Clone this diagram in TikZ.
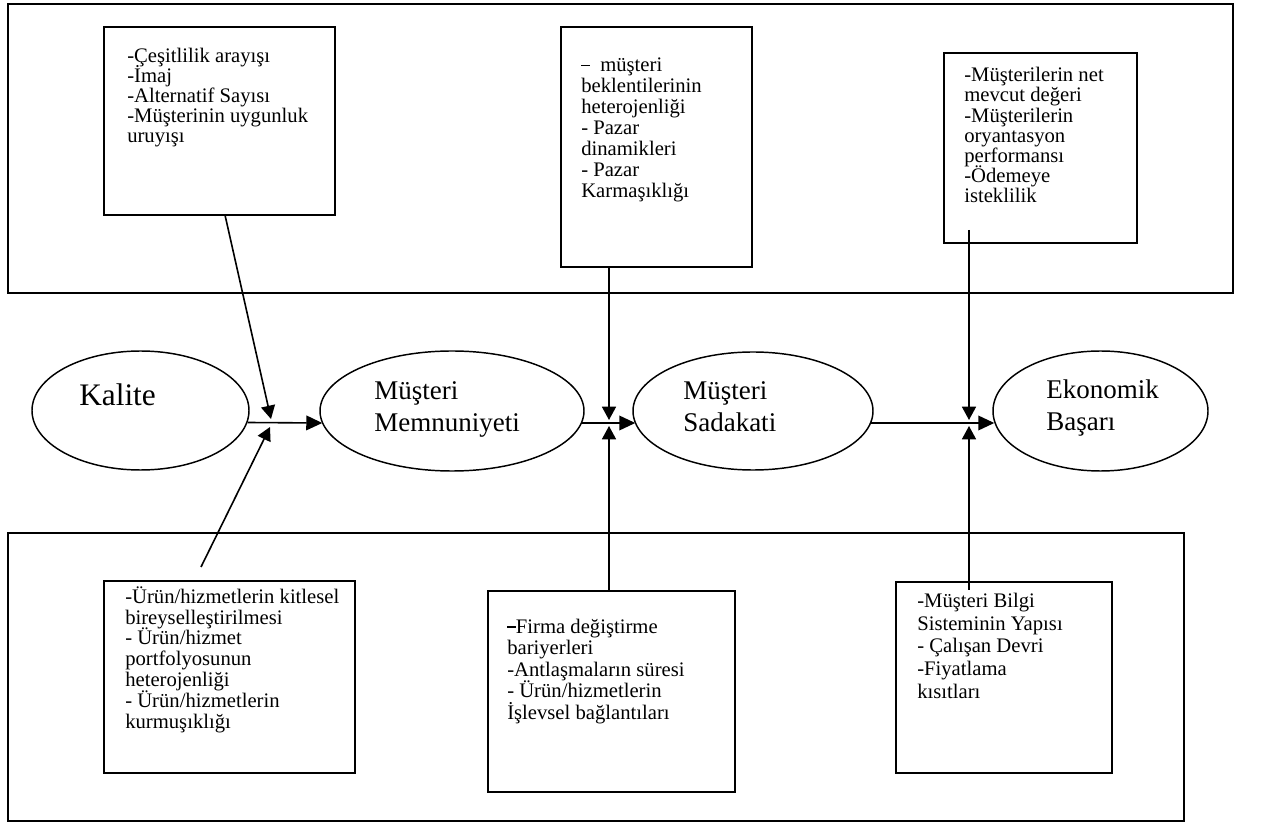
\documentclass[tikz,border=0pt]{standalone}
\usepackage{fontspec}
\setmainfont{Liberation Serif}
\usetikzlibrary{arrows.meta,calc,shapes.geometric,fit}
% keep the baseline distance fixed, whatever the accents
\newcommand\tightlines{\lineskiplimit-100pt\relax}
% heavy leading dash of a list item
\newcommand\heavydash{\rule[0.27em]{0.42em}{0.085em}}
\begin{document}
\begin{tikzpicture}[x=0.75pt,y=-0.75pt,
  frame/.style={draw,line width=1pt,inner sep=0pt},
  box/.style={draw,line width=1.1pt,inner sep=0pt},
  oval/.style={draw,ellipse,line width=1.1pt,inner sep=0pt},
  % anchored at the baseline of the last line
  txt/.style={anchor=base west,align=left,inner sep=0pt,
    font={\fontsize{15.5pt}{#1}\selectfont\tightlines}},
  txt/.default=15.5pt,
  big/.style={anchor=base west,align=left,inner sep=0pt,
    font={\fontsize{20.25pt}{24pt}\selectfont\tightlines}},
  con/.style={line width=1.2pt},
  arr/.style={con,-{Triangle[length=10pt,width=10.5pt]}},
  harr/.style={con,-{Triangle[length=12pt,width=11pt]}}]
\useasboundingbox (0,0) rectangle (1272,823);
\fill[white] (0,0) rectangle (1272,823);

% outer frames
\node[frame,fit={(8,4) (1233,293)}] (top) {};
\node[frame,fit={(8,533) (1184,821)}] (bot) {};

% factor boxes
\node[box,fit={(104,27) (335,215)}] (t1) {};
\node[box,fit={(561,27) (752,267)}] (t2) {};
\node[box,fit={(944,53) (1137,243)}] (t3) {};
\node[box,fit={(104,581) (355,773)}] (b1) {};
\node[box,fit={(488,591) (735,792)}] (b2) {};
\node[box,fit={(896,582) (1112,773)}] (b3) {};

\node[txt=15pt] (t1t) at (127,143) {-Çeşitlilik arayışı\\-İmaj\\-Alternatif Sayısı\\-Müşterinin uygunluk\\uruyışı};
\node[txt=15.75pt] (t2t) at (581,198) {\heavydash\ \ müşteri\\beklentilerinin\\heterojenliği\\- Pazar\\dinamikleri\\- Pazar\\Karmaşıklığı};
\node[txt=15.15pt] (t3t) at (964,203) {-Müşterilerin net\\mevcut değeri\\-Müşterilerin\\oryantasyon\\performansı\\-Ödemeye\\isteklilik};
\node[txt=15.6pt] (b1t) at (125,728) {-Ürün/hizmetlerin kitlesel\\bireyselleştirilmesi\\- Ürün/hizmet\\portfolyosunun\\heterojenliği\\- Ürün/hizmetlerin\\kurmuşıklığı};
\node[txt=16.1pt] (b2t) at (507,719) {\heavydash Firma değiştirme\\bariyerleri\\-Antlaşmaların süresi\\- Ürün/hizmetlerin\\İşlevsel bağlantıları};
\node[txt=16.9pt] (b3t) at (917,698) {-Müşteri Bilgi\\Sisteminin Yapısı\\- Çalışan Devri\\-Fiyatlama\\kısıtları};

% main chain
\node[oval,minimum width=162.75pt,minimum height=89.25pt] (kal) at (140.5,410.5) {};
\node[oval,minimum width=198pt,minimum height=90pt] (mm) at (452,411) {};
\node[oval,minimum width=180pt,minimum height=88.5pt] (sd) at (753,411) {};
\node[oval,minimum width=161.25pt,minimum height=90pt] (eb) at (1100.5,411) {};

\node[big,font={\fontsize{23.5pt}{26pt}\selectfont}] (kalt) at (79,406) {Kalite};
\node[big] (mmt) at (374,432) {Müşteri\\Memnuniyeti};
\node[big] (sdt) at (683,432) {Müşteri\\Sadakati};
\node[big] (ebt) at (1046,431) {Ekonomik\\Başarı};

% junctions on the chain
\coordinate (j1) at (271,423);
\coordinate (j2) at (609,423);
\coordinate (j3) at (969,423);
\coordinate (t1o) at (225,215);
\coordinate (b1o) at (201,567);
\coordinate (t3o) at (969,230);
\coordinate (b3o) at (969,590);

\draw[harr] ($(kal.east)+(-2,12)$) -- ($(mm.west)+(3,12)$);
\draw[harr] ($(mm.east)+(-3,12)$) -- ($(sd.west)+(3,12)$);
\draw[harr] ($(sd.east)+(-3,12)$) -- ($(eb.west)+(2,12)$);

\draw[arr] (t1o) -- ($(j1)+(0,-4)$);
\draw[arr] (b1o) -- ($(j1)+(-1,4)$);
\draw[arr] (t2.south -| j2) -- ($(j2)+(0,-3)$);
\draw[arr] (b2.north -| j2) -- ($(j2)+(0,3)$);
\draw[arr] (t3o) -- ($(j3)+(0,-3)$);
\draw[arr] (b3o) -- ($(j3)+(0,3)$);
\end{tikzpicture}
\end{document}
